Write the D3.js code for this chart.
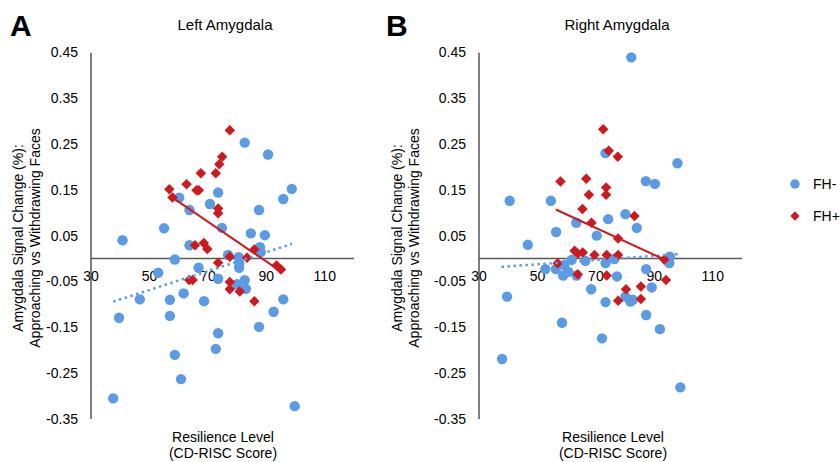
<!DOCTYPE html>
<html>
<head>
<meta charset="utf-8">
<script src="https://cdn.jsdelivr.net/npm/d3@7"></script>
<style>
  body { margin: 0; background: #fff; }
  text { font-family: "Liberation Sans", Arial, sans-serif; fill: #000; }
</style>
</head>
<body>
<svg id="chart" width="840" height="462"></svg>
<script>
// ---------------- data ----------------
var xTicks = [30, 50, 70, 90, 110];
var yTicks = [-0.35, -0.25, -0.15, -0.05, 0.05, 0.15, 0.25, 0.35, 0.45];
var seriesNames = ["FH-", "FH+"];

// Left amygdala, FH- : [CD-RISC score, signal change]
var leftFHminus = [
  [82.6, 0.253], [90.6, 0.227], [98.7, 0.152], [95.8, 0.130], [87.5, 0.106],
  [73.5, 0.144], [70.7, 0.119], [60.2, 0.133], [63.7, 0.106], [55.0, 0.066],
  [74.8, 0.067], [84.7, 0.055], [89.5, 0.051], [40.8, 0.040], [63.7, 0.029],
  [58.7, -0.002], [53.0, -0.031], [66.8, -0.020], [73.5, -0.044], [76.9, 0.008],
  [80.5, 0.003], [80.7, -0.010], [80.7, -0.020], [82.6, -0.047], [83.0, -0.066],
  [80.0, -0.056], [87.8, 0.025], [88.1, 0.014], [61.7, -0.076], [46.7, -0.089],
  [57.0, -0.090], [68.7, -0.093], [39.6, -0.129], [57.0, -0.125], [73.5, -0.163],
  [72.7, -0.197], [58.7, -0.210], [60.8, -0.263], [37.6, -0.305], [99.7, -0.322],
  [87.5, -0.149], [92.5, -0.116], [95.8, -0.089]
];
// Left amygdala, FH+
var leftFHplus = [
  [77.5, 0.280], [74.9, 0.222], [73.9, 0.206], [72.7, 0.186], [67.6, 0.186],
  [62.7, 0.162], [66.1, 0.149], [66.9, 0.149], [56.8, 0.151], [57.9, 0.133],
  [73.5, 0.109], [73.5, 0.099], [65.6, 0.029], [68.6, 0.034], [69.8, 0.021],
  [73.5, -0.009], [77.5, 0.004], [83.4, 0.002], [85.9, 0.020], [93.5, -0.015],
  [95.0, -0.024], [63.6, -0.047], [64.8, -0.047], [77.5, -0.051], [77.5, -0.067],
  [80.9, -0.072], [85.9, -0.093]
];
// Right amygdala, FH-
var rightFHminus = [
  [82.1, 0.439], [97.9, 0.208], [87.1, 0.169], [90.2, 0.163], [73.3, 0.230],
  [40.5, 0.126], [54.6, 0.126], [80.1, 0.097], [74.2, 0.086], [63.3, 0.078],
  [84.0, 0.067], [56.4, 0.058], [46.7, 0.030], [70.3, 0.050], [52.7, -0.023],
  [56.3, -0.023], [59.2, -0.014], [58.8, -0.037], [60.6, -0.029], [61.7, -0.003],
  [66.4, -0.005], [63.4, -0.037], [73.3, -0.010], [76.3, -0.001], [77.2, -0.039],
  [68.4, -0.067], [73.3, -0.095], [87.2, -0.023], [89.1, -0.063], [95.3, 0.004],
  [95.1, -0.010], [80.1, -0.083], [81.8, -0.094], [82.6, -0.090], [39.6, -0.083],
  [58.4, -0.140], [72.1, -0.174], [87.2, -0.123], [91.9, -0.154], [37.9, -0.219],
  [98.9, -0.281]
];
// Right amygdala, FH+
var rightFHplus = [
  [72.5, 0.282], [74.4, 0.235], [77.5, 0.222], [57.9, 0.168], [66.7, 0.174],
  [67.6, 0.139], [73.5, 0.155], [73.5, 0.139], [65.4, 0.108], [83.2, 0.093],
  [68.5, 0.078], [56.9, -0.010], [62.7, 0.017], [63.8, 0.011], [65.5, 0.013],
  [69.5, 0.008], [73.7, 0.008], [77.6, 0.008], [77.6, 0.044], [93.4, -0.002],
  [63.8, -0.034], [73.7, -0.037], [94.0, -0.047], [80.3, -0.067], [85.4, -0.061],
  [85.4, -0.088], [77.6, -0.092]
];
// linear trendlines (start and end points)
var leftTrendMinus = [[37.6, -0.094], [98.8, 0.032]];
var leftTrendPlus = [[57.9, 0.133], [95.2, -0.029]];
var rightTrendMinus = [[37.7, -0.018], [98.9, 0.010]];
var rightTrendPlus = [[56.3, 0.107], [93.4, -0.002]];

var blue = "#5b9be6";
var red = "#cc1a1f";

var svg = d3.select("#chart");
// plain hyphen for negatives, like the original
var fmt = d3.formatLocale({decimal: ".", thousands: ",", grouping: [3], currency: ["", ""], minus: "-"}).format(".2f");

function drawPanel(opt) {
  var x = d3.scaleLinear().domain([30, 120]).range([opt.x0, opt.x0 + 263]);
  var y = d3.scaleLinear().domain([-0.35, 0.45]).range([419, 52.3]);
  var g = svg.append("g");

  // y axis line (no tick marks)
  g.append("line")
    .attr("x1", x(30)).attr("x2", x(30))
    .attr("y1", y(0.45) + 0.5).attr("y2", y(-0.35))
    .attr("stroke", "#7f7f7f").attr("stroke-width", 2);

  // zero line acts as x axis
  g.append("line")
    .attr("x1", x(30)).attr("x2", x(120))
    .attr("y1", y(0)).attr("y2", y(0))
    .attr("stroke", "#595959").attr("stroke-width", 1.5);

  g.selectAll(".ytick").data(yTicks).enter().append("text")
    .attr("x", x(30) - 13)
    .attr("y", function(d) { return y(d) + 5; })
    .attr("text-anchor", "end")
    .style("font-size", "14px")
    .text(function(d) { return fmt(d); });

  g.selectAll(".xtick").data(xTicks).enter().append("text")
    .attr("x", function(d) { return x(d); })
    .attr("y", y(0) + 22)
    .attr("text-anchor", "middle")
    .style("font-size", "14px")
    .text(function(d) { return d; });

  var line = d3.line()
    .x(function(d) { return x(d[0]); })
    .y(function(d) { return y(d[1]); });

  // FH- circles
  g.selectAll(".minus").data(opt.minus).enter().append("circle")
    .attr("cx", function(d) { return x(d[0]); })
    .attr("cy", function(d) { return y(d[1]); })
    .attr("r", 5.2)
    .attr("fill", blue);

  // FH+ diamonds
  var diamond = d3.symbol().type(d3.symbolDiamond2).size(70);
  g.selectAll(".plus").data(opt.plus).enter().append("path")
    .attr("d", diamond)
    .attr("transform", function(d) { return "translate(" + x(d[0]) + "," + y(d[1]) + ")"; })
    .attr("fill", red);

  g.append("path")
    .attr("d", line(opt.trendMinus))
    .attr("fill", "none")
    .attr("stroke", blue)
    .attr("stroke-width", 2.5)
    .attr("stroke-dasharray", "2.5,3.5");

  g.append("path")
    .attr("d", line(opt.trendPlus))
    .attr("fill", "none")
    .attr("stroke", red)
    .attr("stroke-width", 2);

  // titles
  g.append("text")
    .attr("x", opt.titleX).attr("y", 30)
    .attr("text-anchor", "middle")
    .style("font-size", "15px")
    .text(opt.title);

  g.append("text")
    .attr("x", opt.letterX).attr("y", 36)
    .style("font-size", "30px")
    .style("font-weight", "bold")
    .text(opt.letter);

  var yl = g.append("text")
    .attr("transform", "translate(" + opt.yLabelX + ",238) rotate(-90)")
    .attr("text-anchor", "middle")
    .style("font-size", "14px");
  yl.append("tspan").attr("x", 0).attr("dy", 0).text("Amygdala Signal Change (%):");
  yl.append("tspan").attr("x", 0).attr("dy", 17).text("Approaching vs Withdrawing Faces");

  g.append("text")
    .attr("x", opt.xLabelX).attr("y", 442)
    .attr("text-anchor", "middle")
    .style("font-size", "14px")
    .text("Resilience Level");
  g.append("text")
    .attr("x", opt.xLabelX).attr("y", 458)
    .attr("text-anchor", "middle")
    .style("font-size", "14px")
    .text("(CD-RISC Score)");
}

drawPanel({
  x0: 91, minus: leftFHminus, plus: leftFHplus,
  trendMinus: leftTrendMinus, trendPlus: leftTrendPlus,
  title: "Left Amygdala", titleX: 225, letter: "A", letterX: 10,
  yLabelX: 23, xLabelX: 223
});

drawPanel({
  x0: 479, minus: rightFHminus, plus: rightFHplus,
  trendMinus: rightTrendMinus, trendPlus: rightTrendPlus,
  title: "Right Amygdala", titleX: 617, letter: "B", letterX: 386,
  yLabelX: 402, xLabelX: 613
});

// ---------------- legend ----------------
var legend = svg.append("g").attr("transform", "translate(795,184)");
var items = legend.selectAll("g").data(seriesNames).enter().append("g")
  .attr("transform", function(d, i) { return "translate(0," + i * 32 + ")"; });
items.append("path")
  .attr("d", function(d, i) {
    return i == 0 ? d3.symbol().type(d3.symbolCircle).size(70)()
                  : d3.symbol().type(d3.symbolDiamond2).size(55)();
  })
  .attr("fill", function(d, i) { return i == 0 ? blue : red; });
items.append("text")
  .attr("x", 18).attr("y", 5)
  .style("font-size", "14px")
  .text(function(d) { return d; });
</script>
</body>
</html>
